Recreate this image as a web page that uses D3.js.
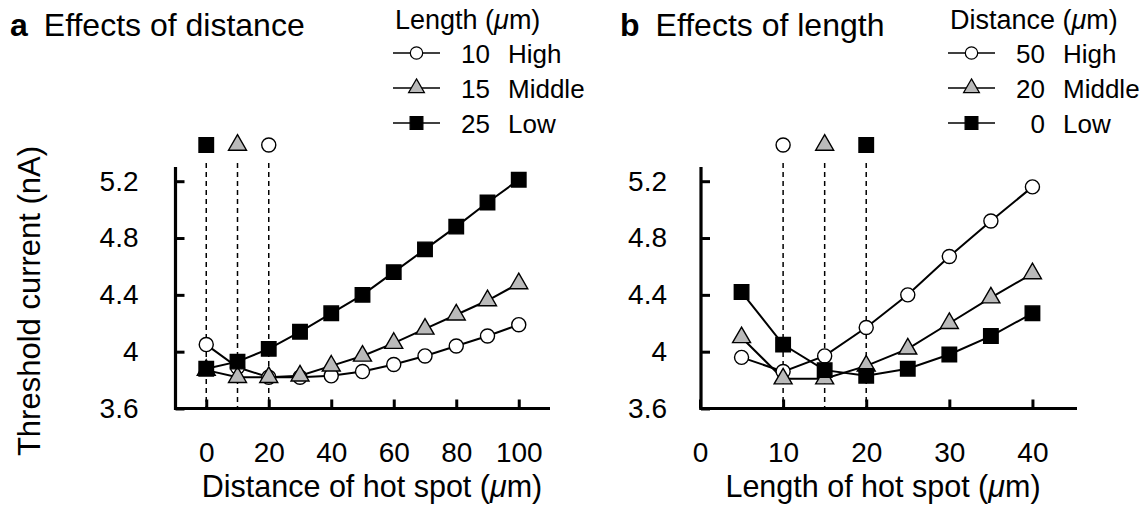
<!DOCTYPE html>
<html>
<head>
<meta charset="utf-8">
<script src="https://cdn.jsdelivr.net/npm/d3@7"></script>
<style>
  html, body { margin: 0; padding: 0; background: #fff; }
  svg { display: block; }
  text { font-family: "Liberation Sans", Arial, Helvetica, sans-serif; fill: #000; }
</style>
</head>
<body>
<svg id="chart" width="1147" height="521"></svg>
<script>
// ---------- data ----------
const distanceX = [0, 10, 20, 30, 40, 50, 60, 70, 80, 90, 100];
const aHigh10   = [4.05, 3.89, 3.82, 3.82, 3.83, 3.86, 3.91, 3.97, 4.04, 4.11, 4.19];
const aMid15    = [3.87, 3.82, 3.82, 3.83, 3.90, 3.97, 4.06, 4.16, 4.26, 4.36, 4.48];
const aLow25    = [3.88, 3.93, 4.02, 4.14, 4.27, 4.40, 4.56, 4.72, 4.88, 5.05, 5.21];

const lengthX   = [5, 10, 15, 20, 25, 30, 35, 40];
const bHigh50   = [3.96, 3.86, 3.97, 4.17, 4.40, 4.67, 4.92, 5.16];
const bMid20    = [4.10, 3.81, 3.81, 3.90, 4.02, 4.20, 4.38, 4.55];
const bLow0     = [4.42, 4.05, 3.87, 3.83, 3.88, 3.98, 4.11, 4.27];

const yTicks      = [3.6, 4, 4.4, 4.8, 5.2];
const yTickLabels = ["3.6", "4", "4.4", "4.8", "5.2"];
const aXTicks     = [0, 20, 40, 60, 80, 100];
const bXTicks     = [0, 10, 20, 30, 40];

const aLegendNums   = ["10", "15", "25"];
const bLegendNums   = ["50", "20", "0"];
const legendLabels  = ["High", "Middle", "Low"];
const aOptimal      = [0, 10, 20];   // square, triangle, circle
const bOptimal      = [10, 15, 20];  // circle, triangle, square

// ---------- setup ----------
const svg = d3.select("#chart");
const FONT_TICK = 28, FONT_AXIS = 30.5, FONT_TITLE = 32, FONT_LEG = 26, FONT_LEGT = 27;
const GRAY = "#bababa";

const symCircle = d3.symbol().type(d3.symbolCircle).size(155)();
const symTri    = d3.symbol().type(d3.symbolTriangle).size(140)();
const symSquare = d3.symbol().type(d3.symbolSquare).size(210)();
const styles = {
  high:   {path: symCircle, fill: "#fff"},
  middle: {path: symTri,    fill: GRAY},
  low:    {path: symSquare, fill: "#000"}
};

const y = d3.scaleLinear().domain([3.6, 5.3]).range([408.5, 167]);

function drawPanel(opts) {
  const g = svg.append("g");
  const x = opts.x;

  // dashed vertical lines + top markers
  opts.optimal.forEach((v, i) => {
    g.append("line")
      .attr("x1", x(v)).attr("x2", x(v))
      .attr("y1", 163).attr("y2", y(3.6))
      .attr("stroke", "#000").attr("stroke-width", 1.5)
      .attr("stroke-dasharray", "5,4");
    const st = styles[opts.optimalKinds[i]];
    g.append("path").attr("d", st.path)
      .attr("transform", `translate(${x(v)},145)`)
      .attr("fill", st.fill).attr("stroke", "#000").attr("stroke-width", 1.4);
  });

  // axes
  const xAxis = d3.axisBottom(x).tickValues(opts.xTicks).tickSize(-9).tickPadding(34).tickSizeOuter(0);
  const gx = g.append("g").attr("transform", `translate(0,${y(3.6)})`).call(xAxis);
  const yAxis = d3.axisLeft(y).tickValues(yTicks).tickSize(-9).tickPadding(opts.yPad).tickSizeOuter(0)
    .tickFormat((d, i) => yTickLabels[i]);
  const gy = g.append("g").attr("transform", `translate(${opts.yAxisX},0)`).call(yAxis);
  [gx, gy].forEach(ax => {
    ax.select(".domain").attr("stroke", "#000").attr("stroke-width", 3.2);
    ax.selectAll(".tick line").attr("stroke", "#000").attr("stroke-width", 3);
    ax.selectAll(".tick text").attr("font-size", FONT_TICK)
      .attr("font-family", "Liberation Sans, Arial, sans-serif").attr("fill", "#000");
  });
  gx.select(".domain").attr("d", `M${opts.yAxisX - 1.5},0H${opts.xEnd}`);
  gy.select(".domain").attr("d", `M0,${y(3.6) + 1.5}V167`);

  // series
  const line = d3.line().x(d => x(d[0])).y(d => y(d[1]));
  opts.series.forEach(s => {
    const pts = opts.xs.map((xv, i) => [xv, s.vals[i]]);
    g.append("path").datum(pts).attr("d", line)
      .attr("fill", "none").attr("stroke", "#000").attr("stroke-width", 2);
  });
  opts.series.forEach(s => {
    const pts = opts.xs.map((xv, i) => [xv, s.vals[i]]);
    const st = styles[s.kind];
    g.selectAll(null).data(pts).enter().append("path")
      .attr("d", st.path)
      .attr("transform", d => `translate(${x(d[0])},${y(d[1])})`)
      .attr("fill", st.fill).attr("stroke", "#000").attr("stroke-width", 1.4);
  });

  // x axis title
  const xt = g.append("text").attr("x", opts.xTitleX).attr("y", 497)
    .attr("text-anchor", "middle").attr("font-size", FONT_AXIS);
  xt.append("tspan").text(opts.xTitle + " (");
  xt.append("tspan").attr("font-style", "italic").text("\u03bc");
  xt.append("tspan").text("m)");

  // panel title
  const tt = g.append("text").attr("x", opts.titleX).attr("y", 36).attr("font-size", FONT_TITLE);
  tt.append("tspan").attr("font-weight", "bold").text(opts.letter);
  tt.append("tspan").attr("dx", 16).text(opts.title);

  // legend
  const lg = g.append("g");
  const lt = lg.append("text").attr("x", opts.legX + 2).attr("y", 29).attr("font-size", FONT_LEGT);
  lt.append("tspan").text(opts.legTitle + " (");
  lt.append("tspan").attr("font-style", "italic").text("\u03bc");
  lt.append("tspan").text("m)");
  ["high", "middle", "low"].forEach((k, i) => {
    const cy = 53 + i * 35;
    lg.append("line").attr("x1", opts.legX).attr("x2", opts.legX + 47)
      .attr("y1", cy).attr("y2", cy).attr("stroke", "#000").attr("stroke-width", 1.5);
    const st = styles[k];
    lg.append("path").attr("d", st.path)
      .attr("transform", `translate(${opts.legX + 23.5},${cy}) scale(0.88)`)
      .attr("fill", st.fill).attr("stroke", "#000").attr("stroke-width", 1.4);
    lg.append("text").attr("x", opts.legX + 97).attr("y", cy + 9.5)
      .attr("text-anchor", "end").attr("font-size", FONT_LEG).text(opts.legNums[i]);
    lg.append("text").attr("x", opts.legX + 115).attr("y", cy + 9.5)
      .attr("font-size", FONT_LEG).text(legendLabels[i]);
  });
}

drawPanel({
  x: d3.scaleLinear().domain([-10, 110]).range([175, 550]),
  xs: distanceX,
  xTicks: aXTicks,
  yAxisX: 175.5, xEnd: 550, yPad: 37,
  series: [{kind: "high", vals: aHigh10}, {kind: "middle", vals: aMid15}, {kind: "low", vals: aLow25}],
  optimal: aOptimal, optimalKinds: ["low", "middle", "high"],
  xTitle: "Distance of hot spot", xTitleX: 372,
  letter: "a", title: "Effects of distance", titleX: 10,
  legTitle: "Length", legX: 393, legNums: aLegendNums
});

drawPanel({
  x: d3.scaleLinear().domain([0, 45]).range([700, 1074]),
  xs: lengthX,
  xTicks: bXTicks,
  yAxisX: 701, xEnd: 1077, yPad: 34,
  series: [{kind: "high", vals: bHigh50}, {kind: "middle", vals: bMid20}, {kind: "low", vals: bLow0}],
  optimal: bOptimal, optimalKinds: ["high", "middle", "low"],
  xTitle: "Length of hot spot", xTitleX: 883,
  letter: "b", title: "Effects of length", titleX: 620,
  legTitle: "Distance", legX: 948, legNums: bLegendNums
});

// shared y-axis title
svg.append("text")
  .attr("transform", "translate(40,301) rotate(-90)")
  .attr("text-anchor", "middle").attr("font-size", 31)
  .text("Threshold current (nA)");
</script>
</body>
</html>
